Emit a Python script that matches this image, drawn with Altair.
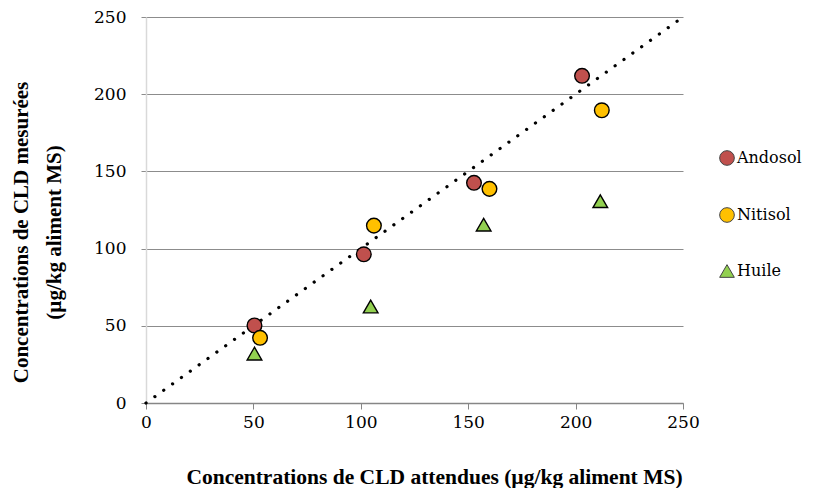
import altair as alt
import pandas as pd

series = ["Andosol", "Nitisol", "Huile"]
andosol_x = [50.5, 101.4, 152.7, 203.0]
andosol_y = [50.2, 96.3, 142.6, 211.9]
nitisol_x = [53.1, 106.1, 159.9, 212.2]
nitisol_y = [42.2, 114.9, 138.7, 189.6]
huile_x = [50.5, 104.6, 157.2, 211.5]
huile_y = [32.0, 62.5, 115.5, 130.7]
line_x = [0, 250]
line_y = [0, 250]
ticks = [0, 50, 100, 150, 200, 250]

rows = []
for name, xs, ys in [("Andosol", andosol_x, andosol_y),
                     ("Nitisol", nitisol_x, nitisol_y),
                     ("Huile", huile_x, huile_y)]:
    for a, b in zip(xs, ys):
        rows.append({"serie": name, "x": a, "y": b})
df = pd.DataFrame(rows)
line_df = pd.DataFrame({"x": line_x, "y": line_y})

FONT = "Liberation Serif"
LFONT = "DejaVu Serif"

xs = alt.Scale(domain=[0, 250], nice=False, zero=True)
ys = alt.Scale(domain=[0, 250], nice=False, zero=True)

line = alt.Chart(line_df).mark_line(
    color="black", strokeWidth=3.2, strokeDash=[0.1, 10.8], strokeCap="round"
).encode(
    x=alt.X("x:Q", scale=xs),
    y=alt.Y("y:Q", scale=ys),
)

points = alt.Chart(df).mark_point(
    filled=True, opacity=1, stroke="black", strokeWidth=1.4
).encode(
    x=alt.X("x:Q", scale=xs,
            axis=alt.Axis(values=ticks, title="Concentrations de CLD attendues (µg/kg aliment MS)",
                          grid=False, tickSize=6, tickColor="#868686", domainColor="#868686",
                          labelFont=LFONT, labelFlush=False,
                          labelFontSize=17, labelColor="black", labelPadding=5,
                          titleFontSize=21.5, titleFontWeight="bold",
                          titleColor="black", titlePadding=36, titleX=288)),
    y=alt.Y("y:Q", scale=ys,
            axis=alt.Axis(values=ticks, title=["Concentrations de CLD mesurées", "(µg/kg aliment MS)"],
                          grid=True, gridColor="#8c8c8c", gridWidth=1,
                          tickSize=5, tickColor="#8c8c8c", domainColor="#d9d9d9",
                          labelFont=LFONT, labelFlush=False,
                          labelFontSize=17, labelColor="black", labelPadding=15,
                          titleFontSize=21, titleFontWeight="bold",
                          titleColor="black", titlePadding=29, titleLineHeight=33, titleY=215)),
    color=alt.Color("serie:N",
                    scale=alt.Scale(domain=series, range=["#C0504D", "#FFC000", "#92D050"]),
                    legend=alt.Legend(title=None, orient="none", legendX=573, legendY=133,
                                      labelFont=LFONT, labelFontSize=16, labelColor="black",
                                      rowPadding=37, symbolSize=140, symbolStrokeColor="#444",
                                      symbolStrokeWidth=1, labelOffset=2, labelLimit=200)),
    shape=alt.Shape("serie:N",
                    scale=alt.Scale(domain=series, range=["circle", "circle", "triangle-up"])),
    size=alt.Size("serie:N",
                  scale=alt.Scale(domain=series, range=[215, 215, 270]), legend=None),
)

chart = alt.layer(line, points).properties(
    width=537, height=386,
    autosize=alt.AutoSizeParams(type="none"),
    padding={"left": 138, "top": 9, "right": 120, "bottom": 85},
).configure(font=FONT).configure_view(stroke=None).configure_axis(
    domainWidth=1.5, titleFont=FONT
)

chart.save("out.html", embed_options={"renderer": "svg", "actions": False})
